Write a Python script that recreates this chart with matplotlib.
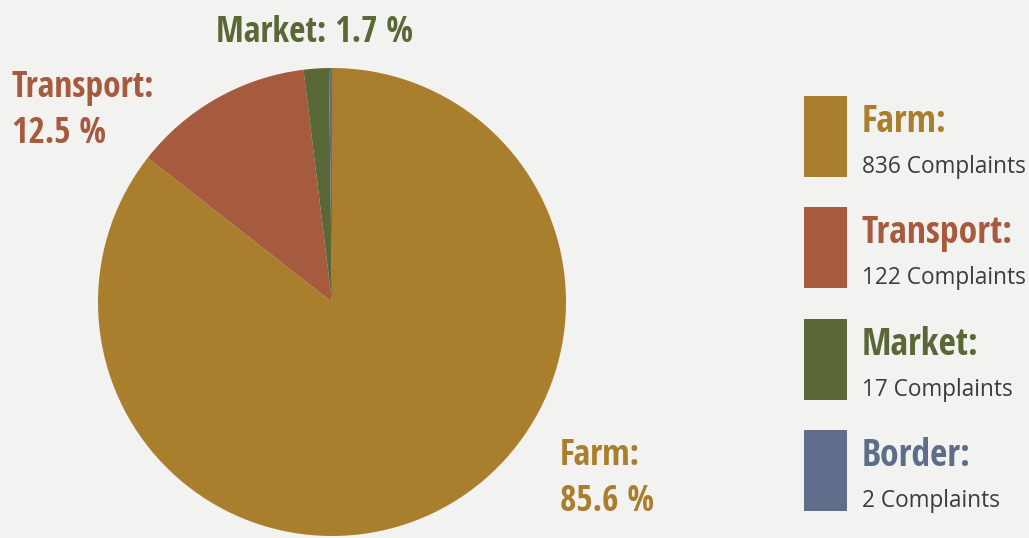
import matplotlib
matplotlib.use("Agg")
import matplotlib.pyplot as plt
from matplotlib import font_manager
from matplotlib.font_manager import FontProperties
from matplotlib.patches import Rectangle

# complaint counts by origin
categories = ["Farm", "Transport", "Market", "Border"]
complaints = [836, 122, 17, 2]
colors = ["#A97E2D", "#A65A3E", "#5A6736", "#5D6D8A"]

BG = "#F2F2F1"
W, H = 1029, 538


def narrow_bold():
    # look for a condensed bold face among the installed fonts
    fonts = font_manager.fontManager.ttflist
    for fam in ["Open Sans", "Roboto", "DejaVu Sans", "Noto Sans", "Liberation Sans"]:
        for f in fonts:
            cond = f.stretch not in ("normal", 500) or "ondensed" in f.fname or "Narrow" in f.fname
            if fam in f.name and cond and f.weight in ("bold", 700, "semibold", 600):
                return FontProperties(fname=f.fname)
    return FontProperties(family="DejaVu Sans", weight="bold", stretch="condensed")


head = narrow_bold()
body = FontProperties(family="Open Sans", stretch="normal", weight="normal")

total = sum(complaints)
pct = [v / total * 100 for v in complaints]

fig = plt.figure(figsize=(W / 100, H / 100), dpi=100, facecolor=BG)


def fx(x):
    return x / W


def fy(y):
    return 1 - y / H


# pie, centred at (332, 302) px, radius 234 px
r = 234
ax = fig.add_axes([fx(332 - r), fy(302 + r), 2 * r / W, 2 * r / H])
ax.pie(complaints, colors=colors, startangle=90, counterclock=False,
       radius=1, wedgeprops=dict(linewidth=0))
ax.set_xlim(-1, 1)
ax.set_ylim(-1, 1)
ax.set_aspect("equal")
ax.axis("off")

# slice labels
lab = dict(fontproperties=head, fontsize=25.5, va="baseline")
fig.text(fx(315), fy(42), f"Market: {pct[2]:.1f} %", color=colors[2], ha="center", **lab)
fig.text(fx(12), fy(97), "Transport:", color=colors[1], ha="left", **lab)
fig.text(fx(12), fy(143), f"{pct[1]:.1f} %", color=colors[1], ha="left", **lab)
fig.text(fx(560), fy(465), "Farm:", color=colors[0], ha="left", **lab)
fig.text(fx(560), fy(511), f"{pct[0]:.1f} %", color=colors[0], ha="left", **lab)

# legend boxes on the right
top = 96
step = 111.3
for i, (name, n, c) in enumerate(zip(categories, complaints, colors)):
    y0 = top + i * step
    fig.patches.append(Rectangle((fx(804), fy(y0 + 81)), 43 / W, 81 / H,
                                 transform=fig.transFigure, color=c, lw=0))
    fig.text(fx(862), fy(y0 + 36), f"{name}:", color=c, fontproperties=head,
             fontsize=27, va="baseline")
    fig.text(fx(862), fy(y0 + 77), f"{n} Complaints", color="#3C3C3C",
             fontproperties=body, fontsize=16.3, va="baseline")

fig.savefig("out.png", dpi=100, facecolor=BG)
